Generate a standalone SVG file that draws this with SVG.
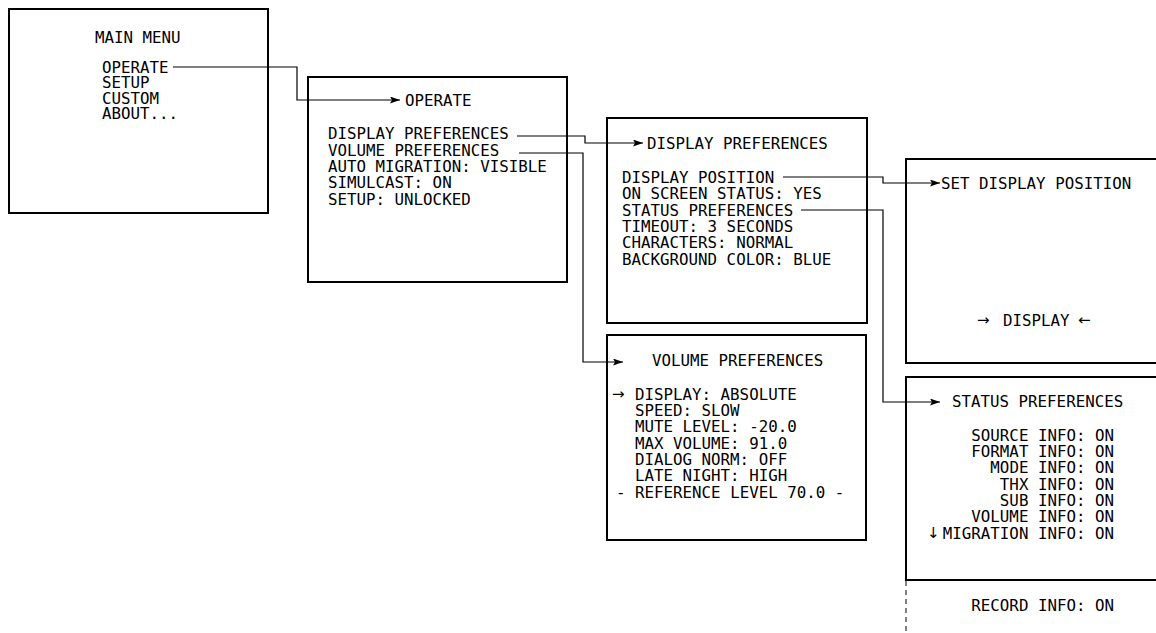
<svg xmlns="http://www.w3.org/2000/svg" width="1156" height="633" viewBox="0 0 1156 633">
  <style>
    .box { fill: #fff; stroke: #000; stroke-width: 2; }
    .t { font-family: "DejaVu Sans Mono", "Liberation Mono", monospace; font-size: 15.8px; fill: #000; }
    .r { text-anchor: end; }
    .sym { font-family: "DejaVu Sans", "Liberation Sans", sans-serif; font-size: 15px; fill: #000; }
    .wire { fill: none; stroke: #000; stroke-width: 1.2; }
    .dash { fill: none; stroke: #000; stroke-width: 1; stroke-dasharray: 5 4; }
  </style>
  <defs>
    <marker id="arrow" markerUnits="userSpaceOnUse" markerWidth="11" markerHeight="8" refX="10" refY="3.5" orient="auto">
      <path d="M0,0 L10,3.5 L0,7 L2,3.5 z" fill="#000"/>
    </marker>
  </defs>
  <rect width="1156" height="633" fill="#fff"/>

  <!-- menu screens -->
  <g id="main-menu">
    <rect class="box" x="9" y="9" width="259" height="204"/>
    <text class="t" x="95" y="42.5">MAIN MENU</text>
    <text class="t" x="102" y="72.5">OPERATE</text>
    <text class="t" x="102" y="88">SETUP</text>
    <text class="t" x="102" y="103.5">CUSTOM</text>
    <text class="t" x="102" y="119">ABOUT...</text>
  </g>

  <g id="operate">
    <rect class="box" x="308" y="77" width="259" height="205"/>
    <text class="t" x="405" y="106">OPERATE</text>
    <text class="t" x="328" y="139">DISPLAY PREFERENCES</text>
    <text class="t" x="328" y="155.5">VOLUME PREFERENCES</text>
    <text class="t" x="328" y="172">AUTO MIGRATION: VISIBLE</text>
    <text class="t" x="328" y="188">SIMULCAST: ON</text>
    <text class="t" x="328" y="204.5">SETUP: UNLOCKED</text>
  </g>

  <g id="display-preferences">
    <rect class="box" x="607" y="118" width="260" height="205"/>
    <text class="t" x="647" y="148.5">DISPLAY PREFERENCES</text>
    <text class="t" x="622" y="182.5">DISPLAY POSITION</text>
    <text class="t" x="622" y="199">ON SCREEN STATUS: YES</text>
    <text class="t" x="622" y="215.5">STATUS PREFERENCES</text>
    <text class="t" x="622" y="231.5">TIMEOUT: 3 SECONDS</text>
    <text class="t" x="622" y="248">CHARACTERS: NORMAL</text>
    <text class="t" x="622" y="264.5">BACKGROUND COLOR: BLUE</text>
  </g>

  <g id="set-display-position">
    <rect class="box" x="906" y="159" width="262" height="204"/>
    <text class="t" x="941" y="188.5">SET DISPLAY POSITION</text>
    <text class="sym" x="977" y="325">→</text>
    <text class="t" x="1003" y="325.5">DISPLAY</text>
    <text class="sym" x="1078" y="325">←</text>
  </g>

  <g id="volume-preferences">
    <rect class="box" x="607" y="335" width="259" height="205"/>
    <text class="t" x="652" y="365.5">VOLUME PREFERENCES</text>
    <text class="sym" x="612" y="399">→</text>
    <text class="t" x="635" y="399.5">DISPLAY: ABSOLUTE</text>
    <text class="t" x="635" y="416">SPEED: SLOW</text>
    <text class="t" x="635" y="432">MUTE LEVEL: -20.0</text>
    <text class="t" x="635" y="448.5">MAX VOLUME: 91.0</text>
    <text class="t" x="635" y="465">DIALOG NORM: OFF</text>
    <text class="t" x="635" y="481">LATE NIGHT: HIGH</text>
    <text class="t" x="616" y="497.5">- REFERENCE LEVEL 70.0 -</text>
  </g>

  <g id="status-preferences">
    <rect class="box" x="906" y="377" width="262" height="203"/>
    <text class="t" x="952" y="406.5">STATUS PREFERENCES</text>
    <text class="t r" x="1114" y="440.5">SOURCE INFO: ON</text>
    <text class="t r" x="1114" y="456.5">FORMAT INFO: ON</text>
    <text class="t r" x="1114" y="473">MODE INFO: ON</text>
    <text class="t r" x="1114" y="489.5">THX INFO: ON</text>
    <text class="t r" x="1114" y="505.5">SUB INFO: ON</text>
    <text class="t r" x="1114" y="522">VOLUME INFO: ON</text>
    <text class="sym" x="927" y="538">↓</text>
    <text class="t r" x="1114" y="538.5">MIGRATION INFO: ON</text>
    <path class="dash" d="M906,581 V633"/>
    <text class="t r" x="1114" y="610.5">RECORD INFO: ON</text>
  </g>

  <!-- links from a menu item to the screen it opens -->
  <g id="connectors">
    <path class="wire" d="M173,67 H297 V100 H400" marker-end="url(#arrow)"/>
    <path class="wire" d="M517,136 H585 V143 H643" marker-end="url(#arrow)"/>
    <path class="wire" d="M519,153 H583 V362 H623" marker-end="url(#arrow)"/>
    <path class="wire" d="M783,177 H883 V183 H940" marker-end="url(#arrow)"/>
    <path class="wire" d="M801,210 H883 V402 H940" marker-end="url(#arrow)"/>
  </g>
</svg>
